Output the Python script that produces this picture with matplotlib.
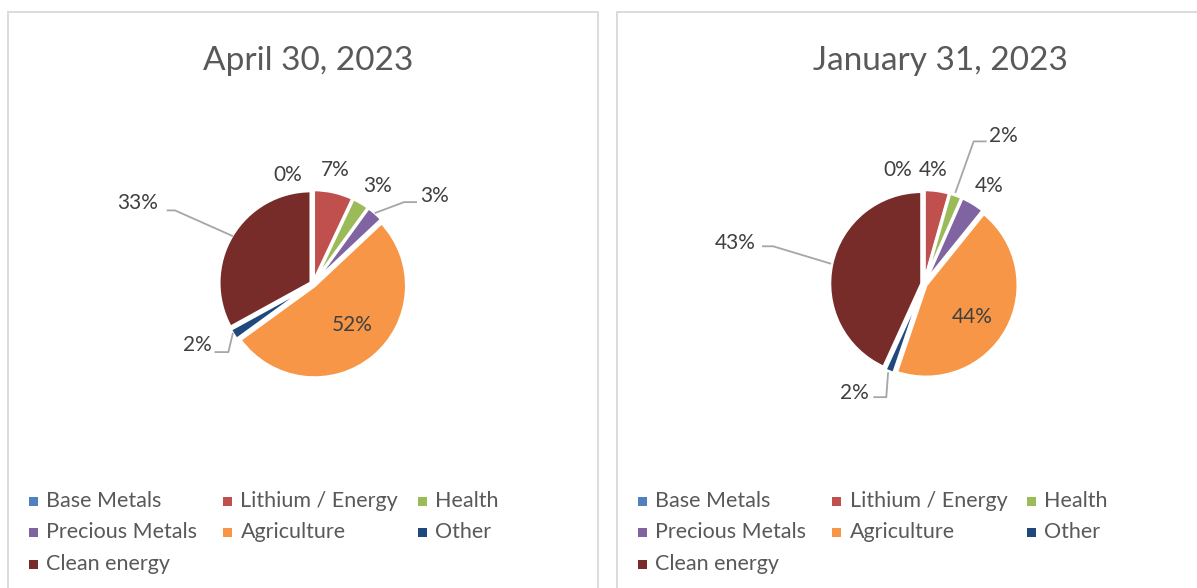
import matplotlib
matplotlib.use("Agg")
import matplotlib.pyplot as plt
from matplotlib.patches import Rectangle

plt.rcParams['font.family'] = ['Lato', 'DejaVu Sans']

categories = ["Base Metals", "Lithium / Energy", "Health", "Precious Metals",
              "Agriculture", "Other", "Clean energy"]
colors = ["#4f81bd", "#c0504d", "#9bbb59", "#8064a2", "#f79646", "#1f497d", "#772c2a"]

title_apr = "April 30, 2023"
values_apr = [0, 7, 3, 3, 52, 2, 33]
title_jan = "January 31, 2023"
values_jan = [0, 4.4, 2.2, 4.2, 44.4, 1.6, 43.2]

# label positions (in pie-radius units) and leader lines
lbl_apr = [(-0.27, 1.18), (0.24, 1.24), (0.70, 1.07), (1.32, 0.96),
           (0.43, -0.45), (-1.26, -0.66), (-1.91, 0.88)]
lead_apr = {3: [(1.13, 0.89), (0.99, 0.89), (0.67, 0.77)],
            5: [(-1.07, -0.74), (-0.92, -0.74), (-0.87, -0.53)],
            6: [(-1.59, 0.80), (-1.50, 0.80), (-0.87, 0.52)]}
lbl_jan = [(-0.29, 1.24), (0.10, 1.24), (0.86, 1.61), (0.71, 1.07),
           (0.52, -0.36), (-0.76, -1.18), (-2.05, 0.45)]
lead_jan = {2: [(0.68, 1.55), (0.54, 1.55), (0.34, 0.99)],
            5: [(-0.55, -1.23), (-0.41, -1.23), (-0.39, -0.96)],
            6: [(-1.76, 0.41), (-1.64, 0.41), (-1.01, 0.22)]}

W, H = 1197, 588
fig = plt.figure(figsize=(W / 100, H / 100), dpi=100)

R = 92.0  # pie radius in px


def panel(x0, pw, cx, cy, title, tx, values, lbls, leads):
    # border
    fig.add_artist(Rectangle((x0 / W, -0.05), pw / W, (H - 12) / H + 0.05,
                             transform=fig.transFigure, fill=False,
                             edgecolor="#d9d9d9", lw=1.3))
    aw, ah = 560, 380
    ax = fig.add_axes([(cx - aw / 2) / W, (H - cy - ah / 2) / H, aw / W, ah / H])
    ax.axis("off")
    tot = sum(values)
    ax.pie(values, colors=colors, startangle=90, counterclock=False,
           explode=[0.025] * len(values), radius=1.0,
           wedgeprops=dict(edgecolor="white", linewidth=2.2))
    ax.set_xlim(-aw / 2 / R, aw / 2 / R)
    ax.set_ylim(-ah / 2 / R, ah / 2 / R)
    ax.set_aspect("auto")
    for i, v in enumerate(values):
        ax.text(lbls[i][0], lbls[i][1], f"{round(100 * v / tot):.0f}%",
                ha="center", va="center", fontsize=15, color="#404040")
    for i, pts in leads.items():
        xs = [p[0] for p in pts]
        ys = [p[1] for p in pts]
        ax.plot(xs, ys, color="#a6a6a6", lw=1.3, solid_capstyle="butt")
    fig.text(tx / W, 1 - 61 / H, title, ha="center", va="center",
             fontsize=24, color="#595959")
    # legend
    for i, c in enumerate(categories):
        row, col = divmod(i, 3)
        mx = x0 + 25 + col * 194.5
        my = 501 + row * 31.5
        fig.add_artist(Rectangle(((mx - 4.5) / W, 1 - (my + 4.5) / H), 9 / W, 9 / H,
                                 transform=fig.transFigure, facecolor=colors[i],
                                 edgecolor="none"))
        fig.text((mx + 13) / W, 1 - my / H, c, ha="left", va="center",
                 fontsize=15.5, color="#595959")


panel(8, 590, 313, 284, title_apr, 308, values_apr, lbl_apr, lead_apr)
panel(617, 600, 924, 284, title_jan, 940, values_jan, lbl_jan, lead_jan)

fig.savefig("out.png", dpi=100, facecolor="white")
